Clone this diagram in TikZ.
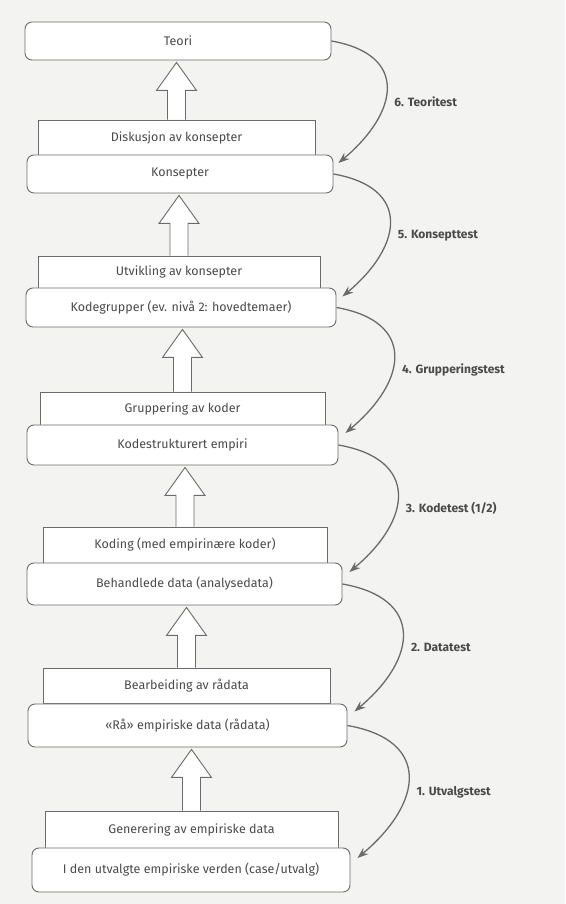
\documentclass[tikz,border=0pt]{standalone}
\usepackage{fontspec}
\setmainfont{Fira Sans}
\usetikzlibrary{calc,arrows.meta}

\definecolor{papir}{HTML}{F3F3F1}
\definecolor{rand}{HTML}{6B6B6B}
\definecolor{skrift}{HTML}{4A4A4A}

% hollow up-arrow from the top of #1 to the bottom of #2
\newcommand\hulpil[2]{%
  \draw[pil] let \p1=(#1.north), \p2=(#2.south) in
    (\x1-9pt,\y1) -- (\x1-9pt,\y2-30pt) -- (\x1-20pt,\y2-30pt) -- (\x1,\y2-2pt)
    -- (\x1+20pt,\y2-30pt) -- (\x1+9pt,\y2-30pt) -- (\x1+9pt,\y1);}

\begin{document}
\begin{tikzpicture}[x=1pt,y=1pt,
  nivaa/.style={draw=rand, fill=white, line width=0.9pt, rounded corners=7pt,
    inner sep=0pt, text=skrift, font=\fontsize{12.5}{14}\selectfont},
  sokkel/.style={draw=rand, fill=white, line width=0.9pt,
    inner sep=0pt, text=skrift, font=\fontsize{12.5}{14}\selectfont},
  pil/.style={draw=rand, fill=white, line width=0.9pt},
  test/.style={draw=rand, line width=1.3pt, looseness=1.65,
    -{Stealth[length=11pt,width=8pt]}},
  etikett/.style={anchor=west, xshift=6pt, text=skrift,
    font=\bfseries\fontsize{12}{14}\selectfont}]

\fill[papir] (0,0) rectangle (565,904);
\useasboundingbox (0,0) rectangle (565,904);

% pedestals (the steps)
\node[sokkel, minimum width=277pt, minimum height=35pt] (diskusjon) at (176.5,766.5) {Diskusjon av konsepter};
\node[sokkel, minimum width=282pt, minimum height=32pt] (utvikling) at (179,632) {Utvikling av konsepter};
\node[sokkel, minimum width=285pt, minimum height=33pt] (gruppering) at (182.5,495.5) {Gruppering av koder};
\node[sokkel, minimum width=284pt, minimum height=36pt] (koding) at (185,359) {Koding (med empirinære koder)};
\node[sokkel, minimum width=287pt, minimum height=35pt] (bearbeiding) at (186.5,218.5) {Bearbeiding av rådata};
\node[sokkel, minimum width=293pt, minimum height=37pt] (generering) at (191.5,74.5) {Generering av empiriske data};

% levels
\node[nivaa, minimum width=306pt, minimum height=38pt] (teori) at (178,863) {Teori};
\node[nivaa, minimum width=306pt, minimum height=38pt] (konsepter) at (180,730) {Konsepter};
\node[nivaa, minimum width=310pt, minimum height=39pt] (kodegrupper) at (181,596.5) {Kodegrupper (ev. nivå 2: hovedtemaer)};
\node[nivaa, minimum width=311pt, minimum height=40pt] (kodestruktur) at (182.5,459) {Kodestrukturert empiri};
\node[nivaa, minimum width=315pt, minimum height=42pt] (behandlet) at (184.5,320) {Behandlede data (analysedata)};
\node[nivaa, minimum width=319pt, minimum height=43pt] (raadata) at (187.5,178.5) {«Rå» empiriske data (rådata)};
\node[nivaa, minimum width=318pt, minimum height=44pt] (verden) at (191,34) {I den utvalgte empiriske verden (case/utvalg)};

\hulpil{diskusjon}{teori}
\hulpil{utvikling}{konsepter}
\hulpil{gruppering}{kodegrupper}
\hulpil{koding}{kodestruktur}
\hulpil{bearbeiding}{behandlet}
\hulpil{generering}{raadata}

% tests
\draw[test] (teori.east) to[out=-10,in=40] node[etikett, pos=0.6] {6. Teoritest} ($(konsepter.east)+(5,11)$);
\draw[test] (konsepter.east) to[out=-10,in=40] node[etikett, pos=0.6] {5. Konsepttest} ($(kodegrupper.east)+(6,11)$);
\draw[test] (kodegrupper.east) to[out=-10,in=40] node[etikett, pos=0.6] {4. Grupperingstest} ($(kodestruktur.east)+(7,12)$);
\draw[test] (kodestruktur.east) to[out=-10,in=40] node[etikett, pos=0.6] {3. Kodetest (1/2)} ($(behandlet.east)+(7,12)$);
\draw[test] (behandlet.east) to[out=-10,in=40] node[etikett, pos=0.6] {2. Datatest} ($(raadata.east)+(7,14)$);
\draw[test] (raadata.east) to[out=-10,in=40] node[etikett, pos=0.6] {1. Utvalgstest} ($(verden.east)+(7,12)$);

\end{tikzpicture}
\end{document}
